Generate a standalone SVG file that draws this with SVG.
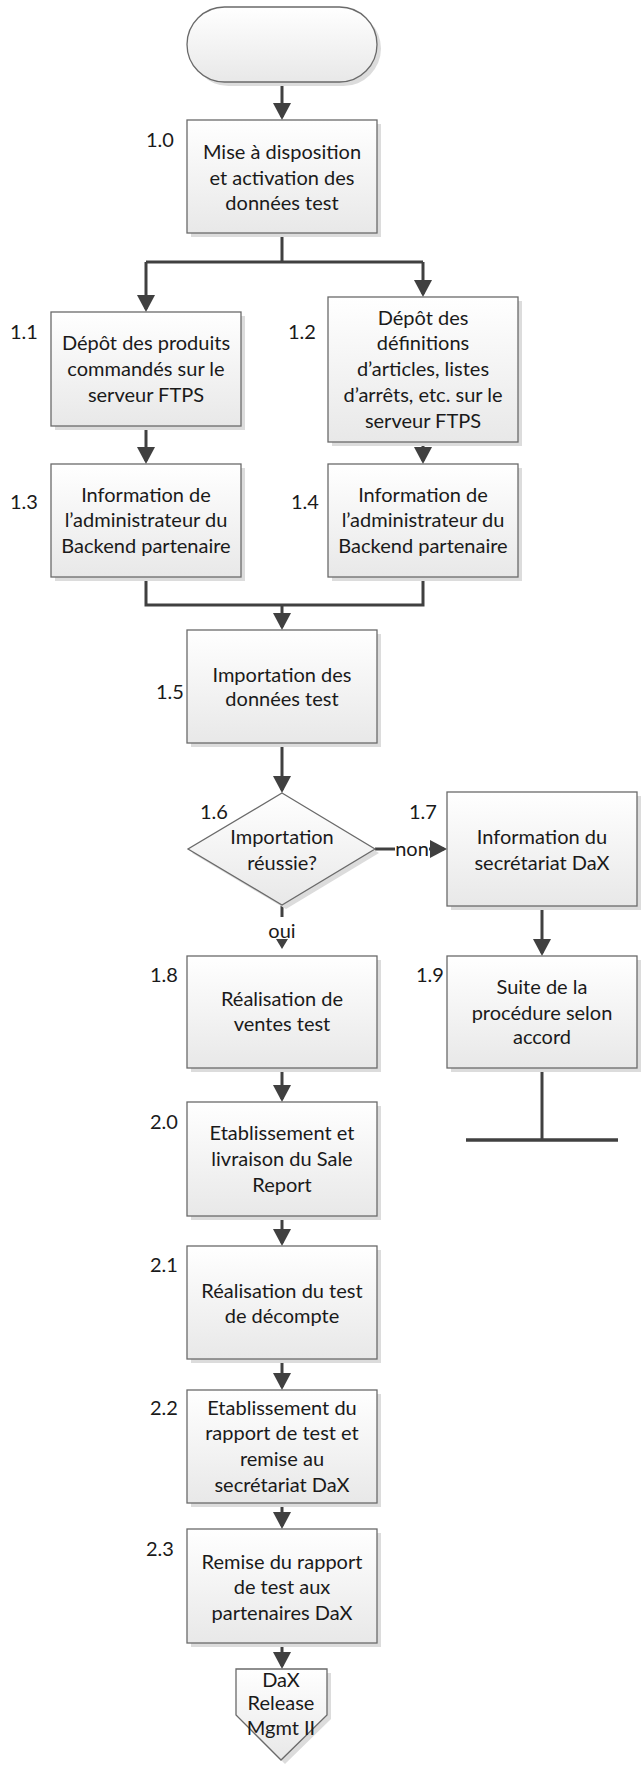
<svg xmlns="http://www.w3.org/2000/svg" width="643" height="1768" viewBox="0 0 643 1768">
<style>
.box{fill:url(#g);stroke:#6a6a6a;stroke-width:1.3}
.sh{fill:#dcdcdc}
.t{font-family:Lato,"Liberation Sans",sans-serif;font-size:20px;fill:#1a1a1a;text-anchor:middle}
.n{font-family:Lato,"Liberation Sans",sans-serif;font-size:20px;fill:#1a1a1a}
.c{fill:none;stroke:#404040;stroke-width:3}
.ca{fill:none;stroke:#404040;stroke-width:3;marker-end:url(#ah)}
</style>
<defs>
<linearGradient id="g" x1="0" y1="0" x2="0" y2="1">
<stop offset="0" stop-color="#ffffff"/>
<stop offset="1" stop-color="#e8e8e8"/>
</linearGradient>
<marker id="ah" markerUnits="userSpaceOnUse" markerWidth="18" markerHeight="18" refX="14" refY="9" orient="auto">
<path d="M0,0 L17,9 L0,18 z" fill="#404040"/>
</marker>
<marker id="ahs" markerUnits="userSpaceOnUse" markerWidth="12" markerHeight="12" refX="7" refY="6" orient="auto">
<path d="M0,0 L10,6 L0,12 z" fill="#404040"/>
</marker>
</defs>

<g id="connectors">
<path class="ca" d="M282,82 V117"/>
<path class="c" d="M282,233 V262 M146,262 H423"/>
<path class="ca" d="M146,262 V309"/>
<path class="ca" d="M423,262 V294"/>
<path class="ca" d="M146,426 V461"/>
<path class="ca" d="M423,442 V461"/>
<path class="c" d="M146,577 V605 H423 V577"/>
<path class="ca" d="M282,605 V627"/>
<path class="ca" d="M282,743 V790"/>
<path class="c" d="M375,849 H395"/>
<path class="ca" d="M429,849 H444"/>
<text class="t" x="412" y="856">non</text>
<path class="c" d="M282,905 V917"/>
<text class="t" x="282" y="938">oui</text>
<path class="c" d="M282,944 V946" style="marker-end:url(#ahs)"/>
<path class="ca" d="M542,906 V953"/>
<path class="c" d="M542,1068 V1140"/>
<path class="c" d="M466,1140 H618" style="stroke-width:3.5"/>
<path class="ca" d="M282,1068 V1099"/>
<path class="ca" d="M282,1216 V1243"/>
<path class="ca" d="M282,1359 V1387"/>
<path class="ca" d="M282,1503 V1526"/>
<path class="ca" d="M282,1643 V1666"/>
</g>

<g id="start">
<rect class="sh" x="191" y="11" width="190" height="75" rx="37.5"/>
<rect class="box" x="187" y="7" width="190" height="75" rx="37.5"/>
</g>

<g id="n10">
<rect class="sh" x="191" y="124" width="190" height="113"/>
<rect class="box" x="187" y="120" width="190" height="113"/>
<text class="t" x="282" y="159">Mise à disposition</text>
<text class="t" x="282" y="185">et activation des</text>
<text class="t" x="282" y="210">données test</text>
<text class="n" x="146" y="147">1.0</text>
</g>

<g id="n11">
<rect class="sh" x="55" y="316" width="190" height="114"/>
<rect class="box" x="51" y="312" width="190" height="114"/>
<text class="t" x="146" y="350">Dépôt des produits</text>
<text class="t" x="146" y="376">commandés sur le</text>
<text class="t" x="146" y="402">serveur FTPS</text>
<text class="n" x="10" y="339">1.1</text>
</g>

<g id="n12">
<rect class="sh" x="332" y="301" width="190" height="145"/>
<rect class="box" x="328" y="297" width="190" height="145"/>
<text class="t" x="423" y="325">Dépôt des</text>
<text class="t" x="423" y="350">définitions</text>
<text class="t" x="423" y="376">d’articles, listes</text>
<text class="t" x="423" y="402">d’arrêts, etc. sur le</text>
<text class="t" x="423" y="428">serveur FTPS</text>
<text class="n" x="288" y="339">1.2</text>
</g>

<g id="n13">
<rect class="sh" x="55" y="468" width="190" height="113"/>
<rect class="box" x="51" y="464" width="190" height="113"/>
<text class="t" x="146" y="502">Information de</text>
<text class="t" x="146" y="527">l’administrateur du</text>
<text class="t" x="146" y="553">Backend partenaire</text>
<text class="n" x="10" y="509">1.3</text>
</g>

<g id="n14">
<rect class="sh" x="332" y="468" width="190" height="113"/>
<rect class="box" x="328" y="464" width="190" height="113"/>
<text class="t" x="423" y="502">Information de</text>
<text class="t" x="423" y="527">l’administrateur du</text>
<text class="t" x="423" y="553">Backend partenaire</text>
<text class="n" x="291" y="509">1.4</text>
</g>

<g id="n15">
<rect class="sh" x="191" y="634" width="190" height="113"/>
<rect class="box" x="187" y="630" width="190" height="113"/>
<text class="t" x="282" y="682">Importation des</text>
<text class="t" x="282" y="706">données test</text>
<text class="n" x="156" y="699">1.5</text>
</g>

<g id="n16">
<polygon class="sh" points="286,797 379,853 286,909 192,853"/>
<polygon class="box" points="282,793 375,849 282,905 188,849"/>
<text class="t" x="282" y="844">Importation</text>
<text class="t" x="282" y="870">réussie?</text>
<text class="n" x="200" y="819">1.6</text>
</g>

<g id="n17">
<rect class="sh" x="451" y="796" width="190" height="114"/>
<rect class="box" x="447" y="792" width="190" height="114"/>
<text class="t" x="542" y="844">Information du</text>
<text class="t" x="542" y="870">secrétariat DaX</text>
<text class="n" x="409" y="819">1.7</text>
</g>

<g id="n18">
<rect class="sh" x="191" y="960" width="190" height="112"/>
<rect class="box" x="187" y="956" width="190" height="112"/>
<text class="t" x="282" y="1006">Réalisation de</text>
<text class="t" x="282" y="1031">ventes test</text>
<text class="n" x="150" y="982">1.8</text>
</g>

<g id="n19">
<rect class="sh" x="451" y="960" width="190" height="112"/>
<rect class="box" x="447" y="956" width="190" height="112"/>
<text class="t" x="542" y="994">Suite de la</text>
<text class="t" x="542" y="1020">procédure selon</text>
<text class="t" x="542" y="1044">accord</text>
<text class="n" x="416" y="982">1.9</text>
</g>

<g id="n20">
<rect class="sh" x="191" y="1106" width="190" height="114"/>
<rect class="box" x="187" y="1102" width="190" height="114"/>
<text class="t" x="282" y="1140">Etablissement et</text>
<text class="t" x="282" y="1166">livraison du Sale</text>
<text class="t" x="282" y="1192">Report</text>
<text class="n" x="150" y="1129">2.0</text>
</g>

<g id="n21">
<rect class="sh" x="191" y="1250" width="190" height="113"/>
<rect class="box" x="187" y="1246" width="190" height="113"/>
<text class="t" x="282" y="1298">Réalisation du test</text>
<text class="t" x="282" y="1323">de décompte</text>
<text class="n" x="150" y="1272">2.1</text>
</g>

<g id="n22">
<rect class="sh" x="191" y="1394" width="190" height="113"/>
<rect class="box" x="187" y="1390" width="190" height="113"/>
<text class="t" x="282" y="1415">Etablissement du</text>
<text class="t" x="282" y="1440">rapport de test et</text>
<text class="t" x="282" y="1466">remise au</text>
<text class="t" x="282" y="1492">secrétariat DaX</text>
<text class="n" x="150" y="1415">2.2</text>
</g>

<g id="n23">
<rect class="sh" x="191" y="1533" width="190" height="114"/>
<rect class="box" x="187" y="1529" width="190" height="114"/>
<text class="t" x="282" y="1569">Remise du rapport</text>
<text class="t" x="282" y="1594">de test aux</text>
<text class="t" x="282" y="1620">partenaires DaX</text>
<text class="n" x="146" y="1556">2.3</text>
</g>

<g id="offpage">
<polygon class="sh" points="240,1673 331,1673 331,1719 285,1764 240,1719"/>
<polygon class="box" points="236,1669 327,1669 327,1715 281,1760 236,1715"/>
<text class="t" x="281" y="1687">DaX</text>
<text class="t" x="281" y="1710">Release</text>
<text class="t" x="281" y="1735">Mgmt II</text>
</g>
</svg>
